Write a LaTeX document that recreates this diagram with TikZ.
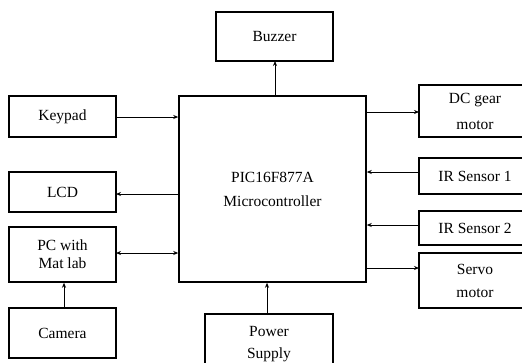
\documentclass[tikz,border=0pt]{standalone}
\usepackage{fontspec}
\setmainfont{Liberation Serif}
\usetikzlibrary{arrows.meta}
\begin{document}
\begin{tikzpicture}[x=1pt,y=-1pt,
  blk/.style={draw,line width=1.5pt,rectangle,inner sep=0pt,align=center,font=\fontsize{15.5}{24}\selectfont},
  conn/.style={line width=0.8pt,-{Stealth[length=5pt,width=4pt]}},
  conn2/.style={line width=0.8pt,{Stealth[length=5pt,width=4pt]}-{Stealth[length=5pt,width=4pt]}}]
\useasboundingbox (0,0) rectangle (522,362);
\clip (0,0) rectangle (522,362);
\node[blk,minimum width=187pt,minimum height=186pt] (mc) at (272.5,189) {PIC16F877A\\Microcontroller};
\node[blk,minimum width=117pt,minimum height=49pt] (bz) at (274.5,36.5) {Buzzer};
\node[blk,minimum width=107pt,minimum height=41pt] (kp) at (62.5,116.5) {Keypad};
\node[blk,minimum width=107pt,minimum height=40pt] (lcd) at (62.5,192) {LCD};
\node[blk,minimum width=107pt,minimum height=55pt,font=\fontsize{15.5}{18}\selectfont] (pc) at (62.5,254.5) {PC with\\Mat lab};
\node[blk,minimum width=107pt,minimum height=50pt] (cam) at (62.5,333) {Camera};
\node[blk,minimum width=128pt,minimum height=60pt,font=\fontsize{15.5}{22}\selectfont] (ps) at (269,344) {Power\\Supply};
\node[blk,minimum width=112pt,minimum height=52pt,font=\fontsize{15.5}{26}\selectfont] (dc) at (475,111) {DC gear\\motor};
\node[blk,minimum width=112pt,minimum height=36pt] (ir1) at (475,176) {IR Sensor 1};
\node[blk,minimum width=112pt,minimum height=34pt] (ir2) at (475,228) {IR Sensor 2};
\node[blk,minimum width=112pt,minimum height=55pt,font=\fontsize{15.5}{23}\selectfont] (sv) at (475,280.5) {Servo\\motor};
\coordinate (bzs) at (275,61);
\draw[conn] (bzs |- mc.north) -- (bzs);
\coordinate (kpa) at (116,117);
\draw[conn] (kpa) -- (kpa -| mc.west);
\coordinate (lcda) at (116,194);
\draw[conn] (lcda -| mc.west) -- (lcda);
\coordinate (pca) at (116,253);
\draw[conn2] (pca) -- (pca -| mc.west);
\coordinate (cama) at (64,308);
\draw[conn] (cama) -- (cama |- pc.south);
\coordinate (psa) at (267,315);
\draw[conn] (psa) -- (psa |- mc.south);
\coordinate (dca) at (419,112);
\draw[conn] (dca -| mc.east) -- (dca);
\coordinate (ir1a) at (419,172);
\draw[conn] (ir1a) -- (ir1a -| mc.east);
\coordinate (ir2a) at (419,225);
\draw[conn] (ir2a) -- (ir2a -| mc.east);
\coordinate (sva) at (419,268);
\draw[conn] (sva -| mc.east) -- (sva);
\end{tikzpicture}
\end{document}
